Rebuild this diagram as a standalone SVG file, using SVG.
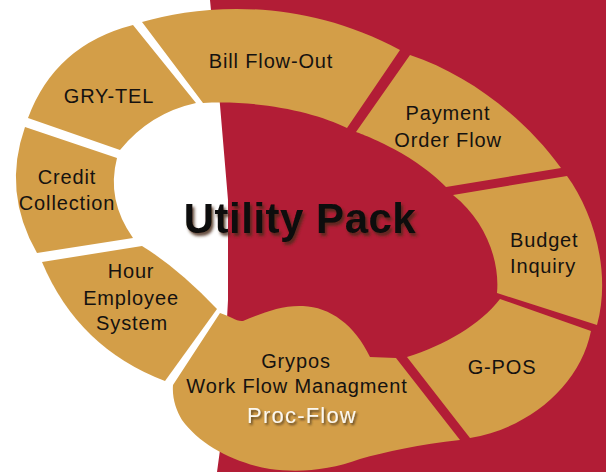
<svg xmlns="http://www.w3.org/2000/svg" width="606" height="472" viewBox="0 0 606 472">
<defs>
<style>
.seg{fill:#D39E48;}
.lbl{font-family:"Liberation Sans",Arial,sans-serif;font-size:20px;fill:#151210;letter-spacing:0.85px;text-anchor:middle;}
.title{font-family:"Liberation Sans",Arial,sans-serif;font-size:42px;font-weight:bold;fill:#0a0a0a;letter-spacing:0.5px;text-anchor:middle;}
.proc{font-family:"Liberation Sans",Arial,sans-serif;font-size:22px;fill:#fbf8f0;letter-spacing:1.2px;text-anchor:middle;}
</style>
<filter id="tshadow" x="-10%" y="-30%" width="120%" height="160%">
<feDropShadow dx="2" dy="3" stdDeviation="1.6" flood-color="#4a2c12" flood-opacity="0.85"/>
</filter>
<filter id="pshadow" x="-10%" y="-30%" width="120%" height="160%">
<feDropShadow dx="1.5" dy="2" stdDeviation="1.2" flood-color="#3a2a18" flood-opacity="0.8"/>
</filter>
</defs>
<rect x="0" y="0" width="606" height="472" fill="#ffffff"/>
<path d="M210,0 L606,0 L606,472 L217,472 L220,450 L228,300 L228,200 L220,105 Z" fill="#B21D36"/>
<g id="connectors"/>
<g id="node-grytel">
<path class="seg" d="M28,118 Q55,45 133,25 L196,103 Q150,113 120,150 Z"/>
<text class="lbl" x="109" y="103">GRY-TEL</text>
</g>
<g id="node-credit">
<path class="seg" d="M25,127 L117,158 Q106,200 133,238 L37,253 Q2,192 25,127 Z"/>
<text class="lbl" x="67" y="184">Credit</text>
<text class="lbl" x="67" y="210">Collection</text>
</g>
<g id="node-hour">
<path class="seg" d="M42,262 L142,246 Q178,268 217,309 L165,381 Q78,348 42,262 Z"/>
<text class="lbl" x="131" y="278">Hour</text>
<text class="lbl" x="131" y="305">Employee</text>
<text class="lbl" x="132" y="330">System</text>
</g>
<g id="node-bill">
<path class="seg" d="M142,22 C200,5 300,-4 400,50 L347,128 C315,112 260,100 203,103 Z"/>
<text class="lbl" x="271" y="68">Bill Flow-Out</text>
</g>
<g id="node-payment">
<path class="seg" d="M410,55 C468,74 525,118 561,168 L446,187 C410,150 356,132 356,132 Z"/>
<text class="lbl" x="448" y="120">Payment</text>
<text class="lbl" x="448" y="147">Order Flow</text>
</g>
<g id="node-budget">
<path class="seg" d="M453,195 L567,176 C592,210 612,270 597,325 L497,293 C500,260 485,220 453,195 Z"/>
<text class="lbl" x="510" y="247" style="text-anchor:start">Budget</text>
<text class="lbl" x="510" y="273" style="text-anchor:start">Inquiry</text>
</g>
<g id="node-gpos">
<path class="seg" d="M407,357 C445,345 480,325 500,299 L591,331 C580,385 530,428 470,438 Z"/>
<text class="lbl" x="502" y="374">G-POS</text>
</g>
<g id="node-grypos">
<path class="seg" d="M220,313 C230,316 237,322 243,321 C262,313 282,305 303,306 C330,307 355,325 370,357 L396,358 L460,440 C420,444 385,452 360,459 C330,470 300,473 270,469 C235,463 200,445 182,420 C176,410 172,398 173,385 Z"/>
<text class="lbl" x="296" y="368">Grypos</text>
<text class="lbl" x="297" y="393">Work Flow Managment</text>
<text class="proc" x="302" y="423" filter="url(#pshadow)">Proc-Flow</text>
</g>
<g id="title">
<text class="title" x="300" y="233" filter="url(#tshadow)">Utility Pack</text>
</g>
</svg>
